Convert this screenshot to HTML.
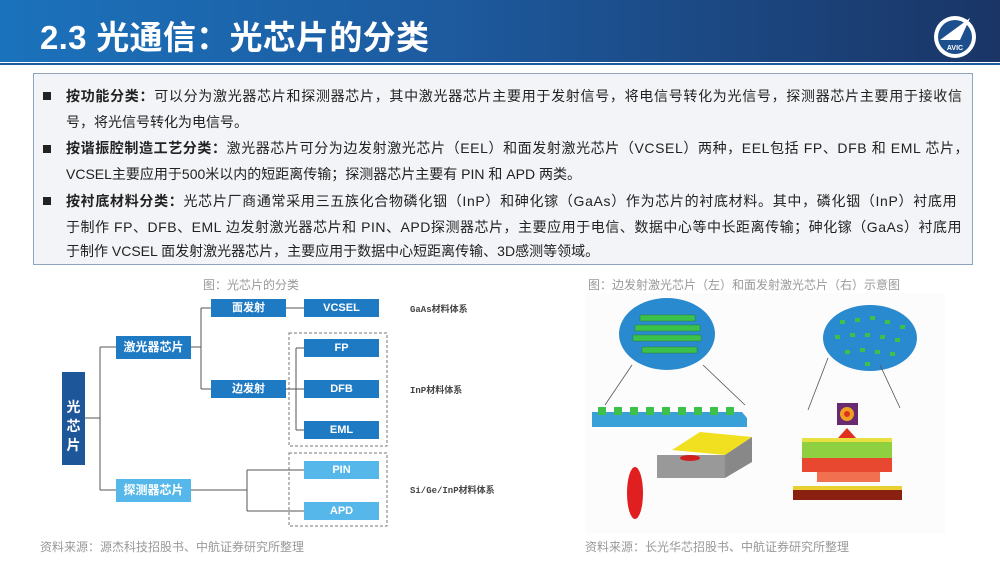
<!DOCTYPE html>
<html><head><meta charset="utf-8"><style>
*{margin:0;padding:0;box-sizing:border-box}
body{width:1000px;height:562px;position:relative;background:#fff;font-family:"Liberation Sans","Noto Sans CJK SC",sans-serif;overflow:hidden}
.hdr{position:absolute;left:0;top:0;width:1000px;height:62px;background:linear-gradient(90deg,#1b72bc 0%,#1d5a9e 45%,#1a3566 100%)}
.hdr h1{position:absolute;left:40px;top:11px;color:#fff;font-size:33px;font-weight:bold;letter-spacing:0.3px}
.ln{position:absolute;left:0;top:63px;width:1000px;height:2px;background:#1d5a9e}
.box{position:absolute;left:33px;top:73px;width:940px;height:192px;background:#f3f4f7;border:1px solid #8fa4bf}
.p{position:absolute;left:66px;font-size:14px;color:#222;white-space:nowrap}
.b{position:absolute;left:43px;width:8px;height:8px;background:#222}
.n{position:absolute;color:#fff;font-size:11px;font-weight:bold;text-align:center;line-height:18px;height:18px;width:75px;background:#1f7ac4}
.l{background:#56b8ea}
.cap{position:absolute;font-size:12px;color:#999;white-space:nowrap}
.mat{position:absolute;font-size:9px;color:#444;font-family:"Liberation Mono","Noto Sans CJK SC",monospace;font-weight:bold}
</style></head><body>
<div class="hdr"><h1>2.3 光通信：光芯片的分类</h1>
<svg style="position:absolute;left:930px;top:10px" width="50" height="52"><circle cx="25" cy="27" r="21" fill="#fff"/><circle cx="25" cy="27" r="17" fill="#1d4f8c"/><path d="M10 30 L40 8 L30 30 Z" fill="#fff"/><text x="25" y="40" font-size="7" fill="#fff" text-anchor="middle" font-weight="bold">AVIC</text></svg></div>
<div class="ln"></div>
<div class="box"></div>
<div class="b" style="top:92px"></div><div class="p" style="top:86px;letter-spacing:0.7px"><b>按功能分类：</b>可以分为激光器芯片和探测器芯片，其中激光器芯片主要用于发射信号，将电信号转化为光信号，探测器芯片主要用于接收信</div>
<div class="p" style="top:112px">号，将光信号转化为电信号。</div>
<div class="b" style="top:145px"></div><div class="p" style="top:138px;letter-spacing:0.6px"><b>按谐振腔制造工艺分类：</b>激光器芯片可分为边发射激光芯片（EEL）和面发射激光芯片（VCSEL）两种，EEL包括 FP、DFB 和 EML 芯片，</div>
<div class="p" style="top:164px">VCSEL主要应用于500米以内的短距离传输；探测器芯片主要有 PIN 和 APD 两类。</div>
<div class="b" style="top:197px"></div><div class="p" style="top:191px;letter-spacing:0.68px"><b>按衬底材料分类：</b>光芯片厂商通常采用三五族化合物磷化铟（InP）和砷化镓（GaAs）作为芯片的衬底材料。其中，磷化铟（InP）衬底用</div>
<div class="p" style="top:217px;letter-spacing:0.53px">于制作 FP、DFB、EML 边发射激光器芯片和 PIN、APD探测器芯片，主要应用于电信、数据中心等中长距离传输；砷化镓（GaAs）衬底用</div>
<div class="p" style="top:241px">于制作 VCSEL 面发射激光器芯片，主要应用于数据中心短距离传输、3D感测等领域。</div>

<div class="cap" style="left:203px;top:276px">图：光芯片的分类</div>
<svg style="position:absolute;left:0;top:0" width="1000" height="562">
<g stroke="#555" stroke-width="1" fill="none">
<path d="M85 418H100M100 347V490M100 347H116M100 490H116"/>
<path d="M191 347H201M201 308V389M201 308H211M201 389H211"/>
<path d="M286 308H304M286 389H304M296 348V430M296 348H304M296 430H304"/>
<path d="M191 490H247M247 470V511M247 470H304M247 511H304"/>
</g>
<g stroke="#777" stroke-dasharray="3,2" fill="none"><rect x="289" y="333" width="98" height="113"/><rect x="289" y="453" width="98" height="73"/></g>
</svg>
<div class="n" style="left:62px;top:372px;width:23px;height:93px;background:#1e569a;font-size:14px;line-height:19px;padding-top:26px">光<br>芯<br>片</div>
<div class="n" style="left:116px;top:336px;height:23px;line-height:23px;font-size:12px">激光器芯片</div>
<div class="n l" style="left:116px;top:479px;height:23px;line-height:23px;font-size:12px">探测器芯片</div>
<div class="n" style="left:211px;top:299px">面发射</div>
<div class="n" style="left:211px;top:380px">边发射</div>
<div class="n" style="left:304px;top:299px">VCSEL</div>
<div class="n" style="left:304px;top:339px">FP</div>
<div class="n" style="left:304px;top:380px">DFB</div>
<div class="n" style="left:304px;top:421px">EML</div>
<div class="n l" style="left:304px;top:461px">PIN</div>
<div class="n l" style="left:304px;top:502px">APD</div>
<div class="mat" style="left:410px;top:302px">GaAs材料体系</div>
<div class="mat" style="left:410px;top:383px">InP材料体系</div>
<div class="mat" style="left:410px;top:483px">Si/Ge/InP材料体系</div>
<div class="cap" style="left:40px;top:538px">资料来源：源杰科技招股书、中航证券研究所整理</div>

<div class="cap" style="left:588px;top:276px">图：边发射激光芯片（左）和面发射激光芯片（右）示意图</div>
<svg style="position:absolute;left:585px;top:293px" width="360" height="240">
<rect x="0" y="0" width="360" height="240" fill="#fcfcfc"/>
<g transform="translate(-585,-293)">
<ellipse cx="667" cy="334" rx="48" ry="36" fill="#2a8ad0"/>
<g fill="#3cc24a" stroke="#2a7a30" stroke-width="0.5"><rect x="640" y="315" width="55" height="6"/><rect x="635" y="325" width="65" height="6"/><rect x="633" y="335" width="68" height="6"/><rect x="642" y="347" width="55" height="6"/></g>
<ellipse cx="870" cy="338" rx="47" ry="33" fill="#2a8ad0"/>
<g fill="#3cc24a"><rect x="840" y="320" width="5" height="4"/><rect x="855" y="318" width="5" height="4"/><rect x="870" y="316" width="5" height="4"/><rect x="885" y="320" width="5" height="4"/><rect x="900" y="325" width="5" height="4"/><rect x="835" y="335" width="5" height="4"/><rect x="850" y="333" width="5" height="4"/><rect x="865" y="333" width="5" height="4"/><rect x="880" y="335" width="5" height="4"/><rect x="895" y="338" width="5" height="4"/><rect x="845" y="350" width="5" height="4"/><rect x="860" y="348" width="5" height="4"/><rect x="875" y="350" width="5" height="4"/><rect x="890" y="352" width="5" height="4"/><rect x="865" y="362" width="5" height="4"/></g>
<g stroke="#555" stroke-width="0.8"><line x1="632" y1="365" x2="605" y2="405"/><line x1="703" y1="365" x2="745" y2="405"/><line x1="828" y1="358" x2="808" y2="410"/><line x1="880" y1="365" x2="900" y2="408"/></g>
<path d="M592 412 L742 412 L747 418 L747 427 L592 427 Z" fill="#3aa0d8"/>
<g fill="#3cc24a"><rect x="598" y="407" width="8" height="8"/><rect x="614" y="407" width="8" height="8"/><rect x="630" y="407" width="8" height="8"/><rect x="646" y="407" width="8" height="8"/><rect x="662" y="407" width="8" height="8"/><rect x="678" y="407" width="8" height="8"/><rect x="694" y="407" width="8" height="8"/><rect x="710" y="407" width="8" height="8"/><rect x="726" y="407" width="8" height="8"/></g>
<path d="M672 450 L700 432 L752 437 L725 455 Z" fill="#f0e020"/>
<path d="M657 455 L725 455 L752 437 L752 462 L725 478 L657 478 Z" fill="#888"/>
<rect x="657" y="455" width="68" height="23" fill="#999"/>
<ellipse cx="690" cy="458" rx="10" ry="3" fill="#d02020"/>
<ellipse cx="635" cy="493" rx="8" ry="26" fill="#e02020"/>
<rect x="837" y="403" width="21" height="22" fill="#6a2a70"/><circle cx="847" cy="414" r="7" fill="#f0a020"/><circle cx="847" cy="414" r="3" fill="#e03020"/>
<path d="M843 450 V438 H838 L847 428 L856 438 H851 V450 Z" fill="#e03020"/>
<rect x="802" y="438" width="90" height="4" fill="#e8e040"/>
<rect x="802" y="442" width="90" height="16" fill="#8fd040"/>
<rect x="802" y="458" width="90" height="14" fill="#e84830"/>
<rect x="817" y="472" width="63" height="10" fill="#f07050"/>
<rect x="793" y="486" width="109" height="4" fill="#e8d030"/>
<rect x="793" y="490" width="109" height="10" fill="#8a2010"/>
</g></svg>
<div class="cap" style="left:585px;top:538px">资料来源：长光华芯招股书、中航证券研究所整理</div>
</body></html>
